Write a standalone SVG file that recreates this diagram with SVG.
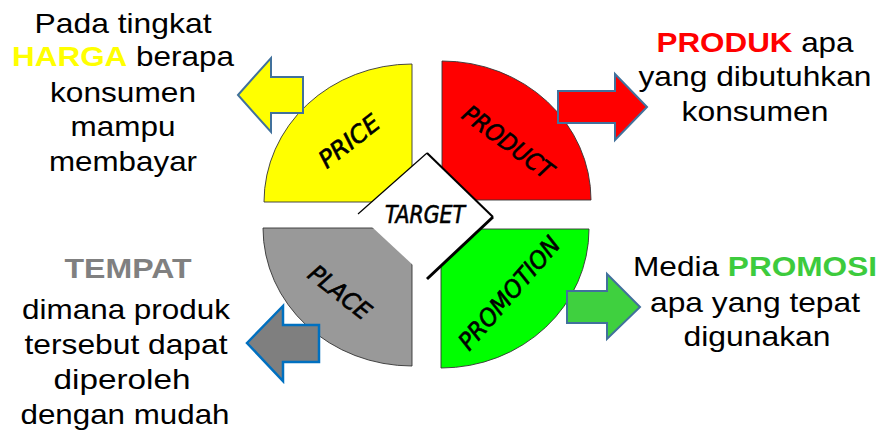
<svg xmlns="http://www.w3.org/2000/svg" width="883" height="438" viewBox="0 0 883 438">
<style>
.sec{stroke:#333;stroke-width:0.9}
.lbl{font-family:"Liberation Sans",Arial,sans-serif;font-size:28px;fill:#000;text-anchor:middle}
.b{font-weight:bold}
.hand{font-family:"DejaVu Sans Condensed","DejaVu Sans",sans-serif;font-style:oblique;font-size:24px;fill:#000;text-anchor:middle;stroke:#000;stroke-width:0.6}
.arr{stroke:#41719C;stroke-width:2;stroke-linejoin:miter}
</style>
<rect width="883" height="438" fill="#fff"/>
<g id="price">
<path class="sec" d="M412,202 L264,202 A148,138 0 0 1 412,64 Z" fill="#FFFF00"/>
<text class="hand" transform="translate(349,141) rotate(-38)" dy="0.36em" textLength="70" lengthAdjust="spacingAndGlyphs">PRICE</text>
</g>
<g id="product">
<path class="sec" d="M442,200 L442,61 A149,139 0 0 1 591,200 Z" fill="#FF0000"/>
<text class="hand" transform="translate(508,142) rotate(36.5)" dy="0.36em" textLength="106" lengthAdjust="spacingAndGlyphs">PRODUCT</text>
</g>
<g id="place">
<path class="sec" d="M412,228 L412,366 A149,138 0 0 1 263,228 Z" fill="#999999"/>
<text class="hand" transform="translate(340,292) rotate(38)" dy="0.36em" textLength="72" lengthAdjust="spacingAndGlyphs">PLACE</text>
</g>
<g id="promotion">
<path class="sec" d="M441,229 L589,229 A148,139 0 0 1 441,368 Z" fill="#00FF00"/>
<text class="hand" transform="translate(509,293) rotate(-49)" dy="0.36em" textLength="141" lengthAdjust="spacingAndGlyphs">PROMOTION</text>
</g>
<g id="target">
<polygon points="427,153 493,217 428,279 358,214" fill="#fff"/>
<line x1="358" y1="214" x2="427" y2="153" stroke="#000" stroke-width="1.2"/>
<line x1="427" y1="153" x2="493" y2="217" stroke="#000" stroke-width="2"/>
<line x1="493" y1="217" x2="427" y2="279" stroke="#000" stroke-width="3"/>
<text class="hand" x="425" y="223" textLength="80" lengthAdjust="spacingAndGlyphs" style="font-size:25px">TARGET</text>
</g>
<g id="connectors">
<polygon class="arr" points="238,95 271,58 271,77 303,77 303,113 271,113 271,132" fill="#FFFF00"/>
<polygon class="arr" points="647,107 615,74 615,91 558,91 558,123 615,123 615,140" fill="#FF0000"/>
<polygon points="247,343 283,306 283,325 319,325 319,362 283,362 283,381" fill="#7F7F7F" stroke="#0070C0" stroke-width="2.5"/>
<polygon class="arr" points="640,307 607,274 607,291 567,291 567,323 607,323 607,339" fill="#3FD03F"/>
</g>
<g id="text-price">
<text class="lbl" x="123" y="33" textLength="177" lengthAdjust="spacingAndGlyphs">Pada tingkat</text>
<text class="lbl" x="123" y="66" textLength="222" lengthAdjust="spacingAndGlyphs"><tspan class="b" fill="#FFFF00">HARGA</tspan> berapa</text>
<text class="lbl" x="123" y="102" textLength="146" lengthAdjust="spacingAndGlyphs">konsumen</text>
<text class="lbl" x="123" y="136" textLength="105" lengthAdjust="spacingAndGlyphs">mampu</text>
<text class="lbl" x="123" y="171" textLength="148" lengthAdjust="spacingAndGlyphs">membayar</text>
</g>
<g id="text-product">
<text class="lbl" x="755" y="52" textLength="197" lengthAdjust="spacingAndGlyphs"><tspan class="b" fill="#FF0000">PRODUK</tspan> apa</text>
<text class="lbl" x="755" y="86" textLength="233" lengthAdjust="spacingAndGlyphs">yang dibutuhkan</text>
<text class="lbl" x="755" y="121" textLength="147" lengthAdjust="spacingAndGlyphs">konsumen</text>
</g>
<g id="text-place">
<text class="lbl b" x="128" y="278" style="fill:#808080" textLength="127" lengthAdjust="spacingAndGlyphs">TEMPAT</text>
<text class="lbl" x="126" y="319" textLength="208" lengthAdjust="spacingAndGlyphs">dimana produk</text>
<text class="lbl" x="126" y="354" textLength="203" lengthAdjust="spacingAndGlyphs">tersebut dapat</text>
<text class="lbl" x="122" y="389" textLength="137" lengthAdjust="spacingAndGlyphs">diperoleh</text>
<text class="lbl" x="125" y="424" textLength="209" lengthAdjust="spacingAndGlyphs">dengan mudah</text>
</g>
<g id="text-promotion">
<text class="lbl" x="755" y="276" textLength="244" lengthAdjust="spacingAndGlyphs">Media <tspan class="b" fill="#3DCB3D">PROMOSI</tspan></text>
<text class="lbl" x="755" y="312" textLength="210" lengthAdjust="spacingAndGlyphs">apa yang tepat</text>
<text class="lbl" x="757" y="346" textLength="147" lengthAdjust="spacingAndGlyphs">digunakan</text>
</g>
</svg>
